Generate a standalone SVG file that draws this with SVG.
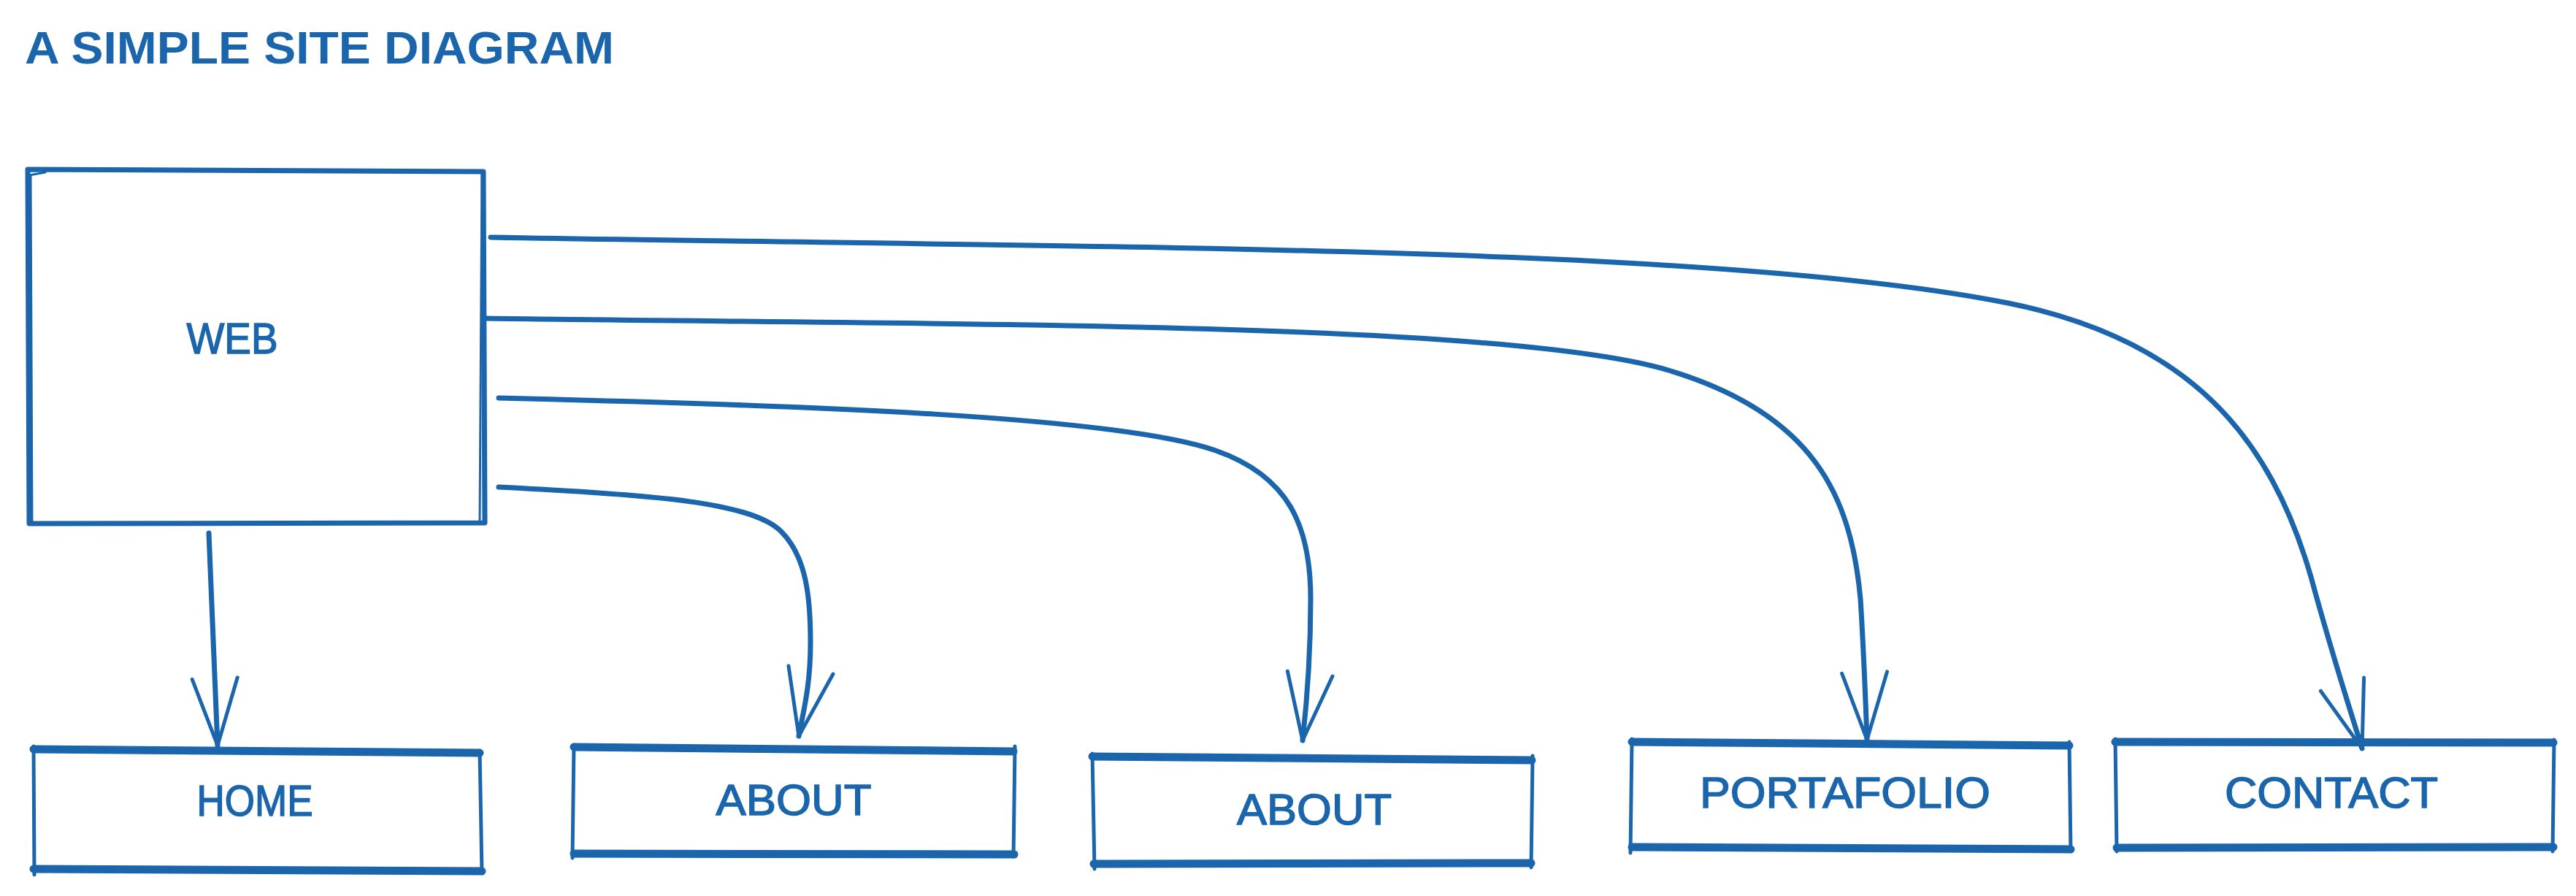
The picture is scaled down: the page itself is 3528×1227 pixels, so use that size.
<svg xmlns="http://www.w3.org/2000/svg" width="3528" height="1227" viewBox="0 0 3528 1227">
<style>
.bg{fill:#ffffff}
.box{fill:none;stroke:#1a65ab;stroke-width:7;stroke-linecap:round;stroke-linejoin:round}
.side{fill:none;stroke:#1a65ab;stroke-width:5;stroke-linecap:round;stroke-linejoin:round}
.edge{fill:none;stroke:#1a65ab;stroke-width:11;stroke-linecap:round;stroke-linejoin:round}
.thin{fill:none;stroke:#1a65ab;stroke-width:3;stroke-linecap:round}
.conn{fill:none;stroke:#1a65ab;stroke-width:7;stroke-linecap:round}
.lbl{fill:#1a65ab;stroke:#1a65ab;stroke-width:1.5;font-family:"Liberation Sans Narrow","Liberation Sans",sans-serif;font-size:60px;text-anchor:middle}
.title{fill:#1a65ab;font-family:"Liberation Sans",sans-serif;font-size:63px;font-weight:bold}
</style>
<defs>
<marker id="arr" markerUnits="userSpaceOnUse" markerWidth="200" markerHeight="200" refX="0" refY="0" orient="auto" overflow="visible">
<path d="M-92,-31 L0,0 L-92,31" fill="none" stroke="#1a65ab" stroke-width="5" stroke-linecap="round" stroke-linejoin="round"/>
</marker>
</defs>
<rect class="bg" x="0" y="0" width="3528" height="1227"/>
<text class="title" x="34" y="87" textLength="807" lengthAdjust="spacingAndGlyphs">A SIMPLE SITE DIAGRAM</text>

<g id="connectors">
<path class="conn" marker-end="url(#arr)" d="M286,730 L298,1021"/>
<path class="conn" marker-end="url(#arr)" d="M683,667 C900,678 1030,688 1070,728 C1105,763 1110,820 1110,880 C1110,940 1100,975 1094,1008"/>
<path class="conn" marker-end="url(#arr)" d="M683,545 C1100,555 1530,570 1665,617 C1765,652 1795,720 1795,820 C1795,900 1790,960 1784,1014"/>
<path class="conn" marker-end="url(#arr)" d="M666,436 C1300,445 2060,440 2285,507 C2485,567 2535,680 2548,820 C2553,900 2555,960 2557,1013"/>
<path class="conn" marker-end="url(#arr)" d="M672,325 C1500,340 2350,335 2750,415 C3000,465 3110,600 3165,790 C3195,900 3215,960 3235,1025"/>
</g>

<g id="web">
<path class="box" d="M38,232 L662,235 L664,716 L40,717 Z"/>
<path class="thin" d="M42,240 L44,716 M40,240 L62,236 M660,238 L657,715"/>
<text class="lbl" x="318" y="484" textLength="125" lengthAdjust="spacingAndGlyphs">WEB</text>
</g>

<g id="home">
<path class="side" d="M46,1022 L47,1198 M657,1028 L660,1196"/>
<path class="edge" d="M46,1026 L657,1031 M46,1190 L660,1193"/>
<text class="lbl" x="349" y="1117" textLength="159" lengthAdjust="spacingAndGlyphs">HOME</text>
</g>

<g id="about1">
<path class="side" d="M786,1020 L784,1175 M1390,1022 L1388,1173"/>
<path class="edge" d="M786,1023 L1388,1029 M786,1169 L1389,1170"/>
<text class="lbl" x="1087" y="1116" textLength="213" lengthAdjust="spacingAndGlyphs">ABOUT</text>
</g>

<g id="about2">
<path class="side" d="M1496,1032 L1499,1190 M2099,1035 L2097,1188"/>
<path class="edge" d="M1496,1036 L2098,1041 M1498,1183 L2097,1182"/>
<text class="lbl" x="1800" y="1129" textLength="212" lengthAdjust="spacingAndGlyphs">ABOUT</text>
</g>

<g id="portafolio">
<path class="side" d="M2235,1012 L2233,1168 M2834,1016 L2836,1166"/>
<path class="edge" d="M2235,1016 L2834,1021 M2235,1160 L2836,1163"/>
<text class="lbl" x="2527" y="1106" textLength="398" lengthAdjust="spacingAndGlyphs">PORTAFOLIO</text>
</g>

<g id="contact">
<path class="side" d="M2897,1012 L2899,1166 M3498,1013 L3496,1166"/>
<path class="edge" d="M2897,1016 L3497,1017 M2899,1161 L3497,1160"/>
<text class="lbl" x="3193" y="1106" textLength="292" lengthAdjust="spacingAndGlyphs">CONTACT</text>
</g>
</svg>
